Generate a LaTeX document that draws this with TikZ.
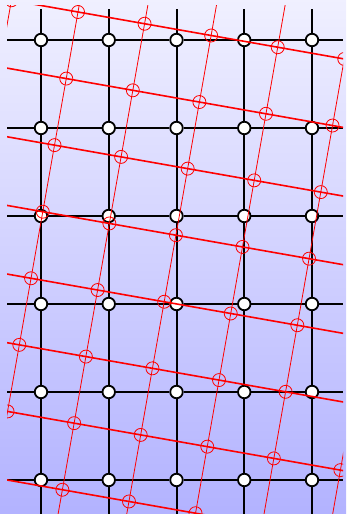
\documentclass[tikz,border=0pt]{standalone}
\usepackage{tikz}
\usetikzlibrary{calc}
\colorlet{bgtop}{blue!6}
\colorlet{bgbottom}{blue!30}
\colorlet{latticered}{red}

\begin{document}
\begin{tikzpicture}[
    x=1pt, y=-1pt,
    gridline/.style={line width=2pt, black},
    vertex/.style={
        circle, draw=black, fill=white, line width=1.8pt,
        minimum size=12.5pt, inner sep=0pt
    },
    latticept/.style={
        circle, draw=latticered, line width=0.8pt,
        minimum size=13pt, inner sep=0pt
    },
    rowline/.style={latticered, line width=1.6pt},
    colline/.style={latticered, line width=0.8pt},
]

% === Background ===
\shade[top color=bgtop, bottom color=bgbottom] (0,0) rectangle (346,514);
\useasboundingbox (0,0) rectangle (346,514);

% === Square grid ===
\foreach \c in {0,...,4}
  \foreach \r in {0,...,5}
    \node[vertex] (n-\c-\r) at ({41+67.75*\c},{40+88*\r}) {};

% horizontal lines
\foreach \r in {0,...,5} {
  \coordinate (west-\r) at (7,{40+88*\r});
  \coordinate (east-\r) at (343,{40+88*\r});
  \draw[gridline] (west-\r) -- (n-0-\r) -- (n-1-\r) -- (n-2-\r)
                  -- (n-3-\r) -- (n-4-\r) -- (east-\r);
}
% vertical lines
\foreach \c in {0,...,4} {
  \coordinate (north-\c) at ({41+67.75*\c},9);
  \coordinate (south-\c) at ({41+67.75*\c},514);
  \draw[gridline] (north-\c) -- (n-\c-0) -- (n-\c-1) -- (n-\c-2)
                  -- (n-\c-3) -- (n-\c-4) -- (n-\c-5) -- (south-\c);
}

% === Rotated lattice ===
\begin{scope}
\clip (7,5) rectangle (343,514);
\foreach \i in {0,...,7}
  \foreach \j in {0,...,9}
    \node[latticept] (p-\i-\j)
      at ({23.17+66.57*\i-11.74*\j},{-66.31+11.74*\i+66.57*\j}) {};
\foreach \j in {1,...,8}
  \draw[rowline] (p-0-\j.center) -- (p-7-\j.center);
\foreach \i in {0,...,6}
  \draw[colline] (p-\i-0.center) -- (p-\i-9.center);
\end{scope}

\end{tikzpicture}
\end{document}
